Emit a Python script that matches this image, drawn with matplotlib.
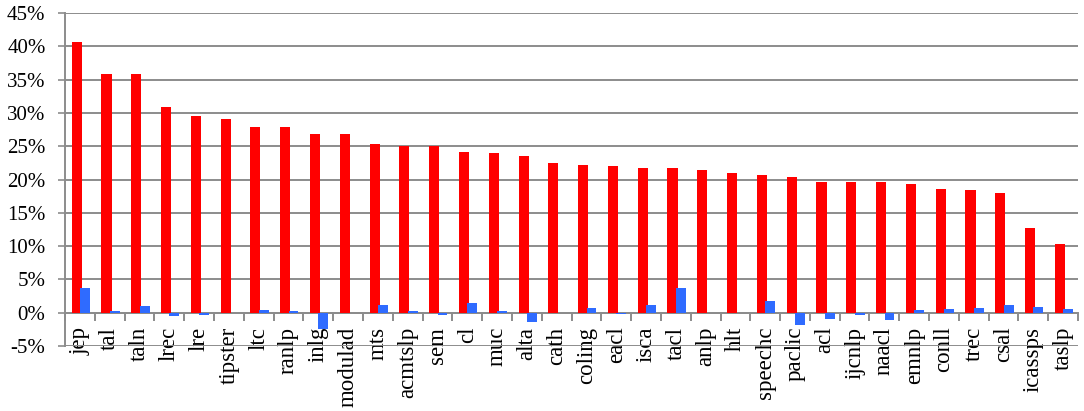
import matplotlib.pyplot as plt
from matplotlib.ticker import FixedLocator, FuncFormatter
import numpy as np

venues = ["jep", "tal", "taln", "lrec", "lre", "tipster", "ltc", "ranlp", "inlg", "modulad",
          "mts", "acmtslp", "sem", "cl", "muc", "alta", "cath", "coling", "eacl", "isca",
          "tacl", "anlp", "hlt", "speechc", "paclic", "acl", "ijcnlp", "naacl", "emnlp", "conll",
          "trec", "csal", "icassps", "taslp"]

red_vals = [40.7, 35.8, 35.8, 30.9, 29.5, 29.1, 27.9, 27.9, 26.9, 26.8,
            25.4, 25.0, 25.0, 24.2, 24.0, 23.5, 22.5, 22.2, 22.1, 21.8,
            21.7, 21.5, 21.0, 20.7, 20.4, 19.7, 19.7, 19.6, 19.3, 18.6,
            18.4, 18.0, 12.7, 10.4]

blue_vals = [3.7, 0.3, 1.0, -0.5, -0.4, 0.0, 0.4, 0.2, -2.5, 0.0,
             1.2, 0.3, -0.4, 1.5, 0.2, -1.35, 0.0, 0.65, -0.2, 1.15,
             3.65, 0.0, 0.0, 1.75, -1.9, -1.0, -0.3, -1.15, 0.4, 0.5,
             0.65, 1.15, 0.85, 0.6]

plt.rcParams['font.family'] = ['Liberation Serif', 'DejaVu Serif']

fig = plt.figure(figsize=(10.84, 4.11), dpi=100)
ax = fig.add_axes([0.06, 0.158, 0.9345, 0.81])

x = np.arange(len(venues))
ax.bar(x - 0.11, red_vals, width=0.34, color='#ff0000', zorder=3)
ax.bar(x + 0.17, blue_vals, width=0.33, color='#2f6bff', zorder=3)

ax.set_xlim(-0.5, len(venues) - 0.5)
ax.set_ylim(-5, 45)
ax.set_yticks(range(-5, 46, 5))
ax.yaxis.set_major_formatter(FuncFormatter(lambda v, p: "%d%%" % v))
ax.grid(axis='y', color='#8c8c8c', linewidth=1.4, zorder=0)
ax.tick_params(axis='y', length=5, color='#8c8c8c', width=1.2, labelsize=15, pad=9)

ax.spines['top'].set_visible(False)
ax.spines['right'].set_visible(False)
ax.spines['left'].set_color('#8c8c8c')
ax.spines['left'].set_linewidth(1.4)
ax.spines['bottom'].set_position(('data', 0))
ax.spines['bottom'].set_color('#8c8c8c')
ax.spines['bottom'].set_linewidth(1.4)

ax.set_xticks(x)
ax.set_xticklabels(venues, rotation=90, fontsize=16.5)
ax.xaxis.set_minor_locator(FixedLocator(np.arange(-0.5, len(venues), 1)))
ax.tick_params(axis='x', which='major', length=0, pad=10)
ax.tick_params(axis='x', which='minor', length=6, color='#8c8c8c', width=1.4)

fig.savefig("out.png", dpi=100)
